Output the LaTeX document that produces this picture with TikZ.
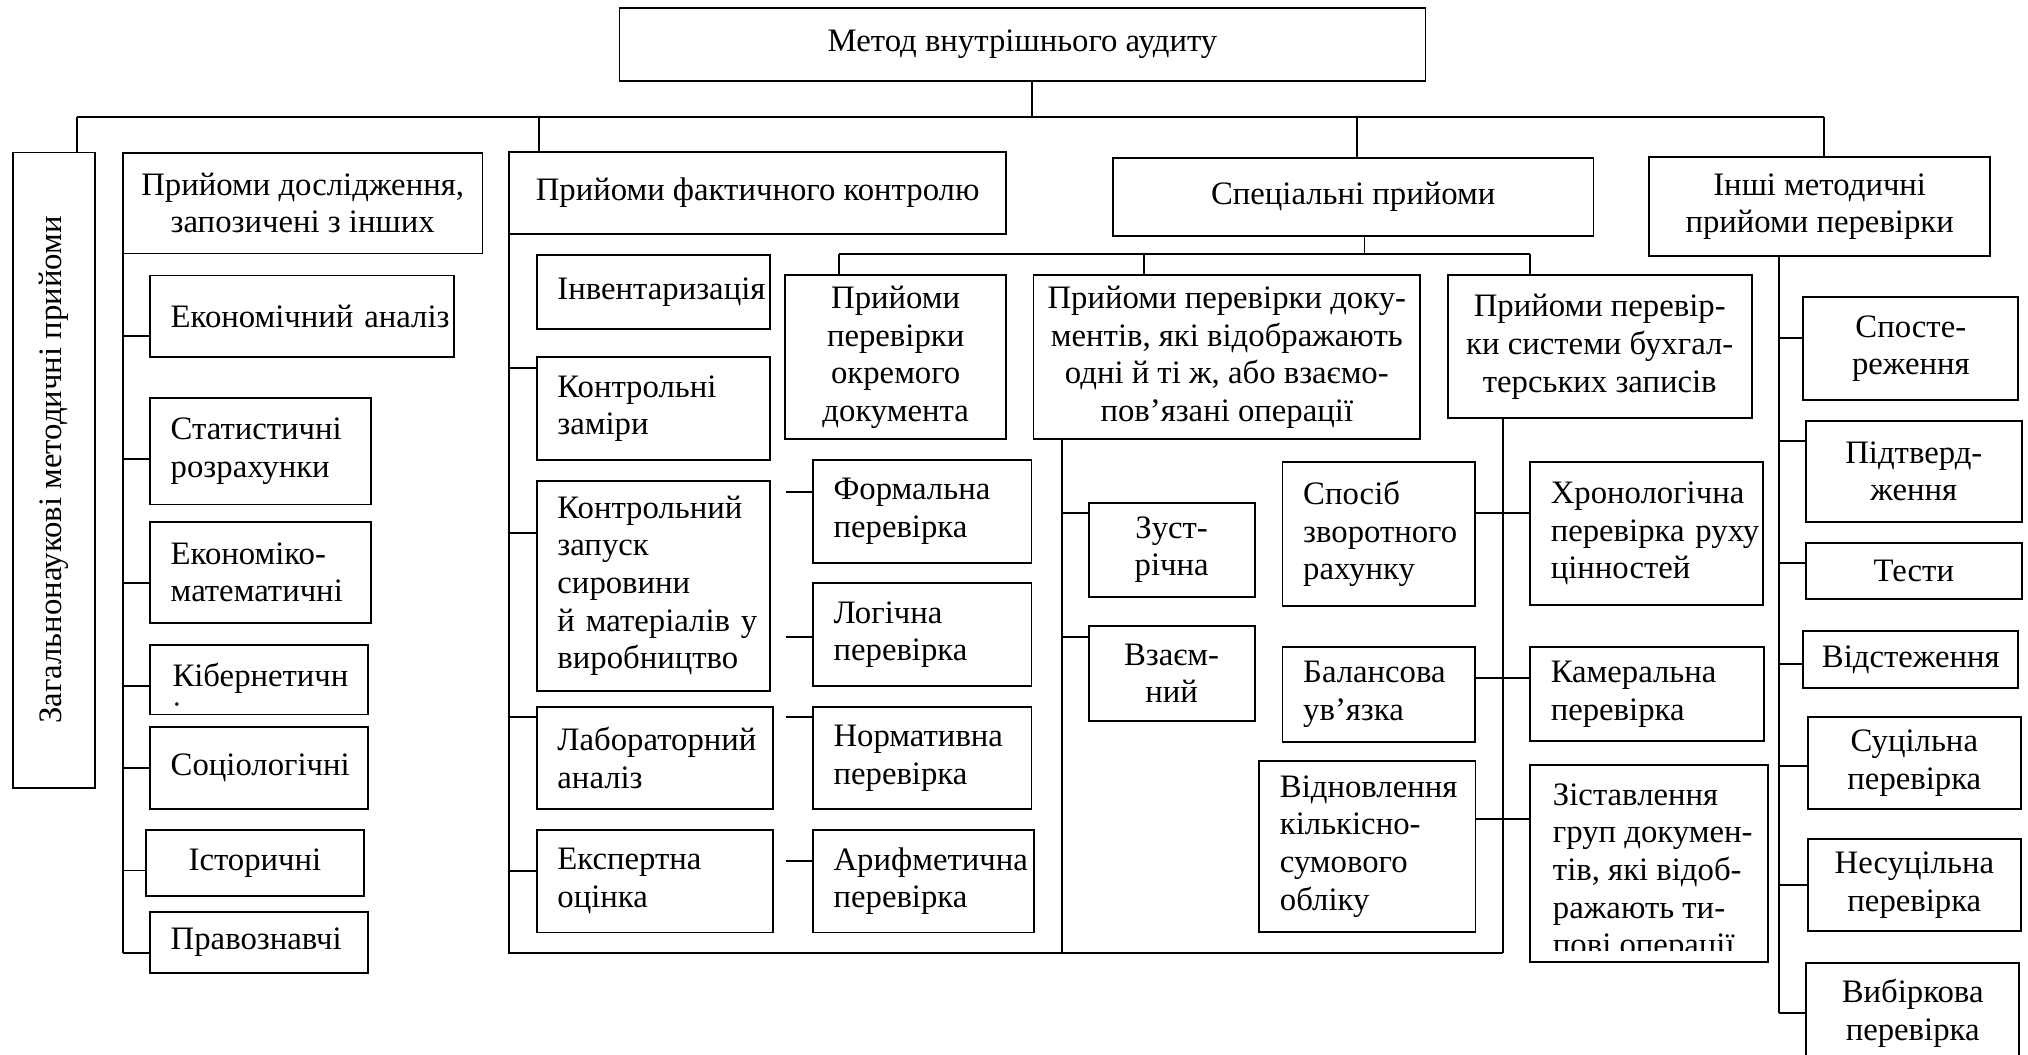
\documentclass[tikz,border=0pt]{standalone}
\usepackage{fontspec}
\setmainfont{Liberation Serif}

\tikzset{
	ramka/.style={draw, line width=1pt, outer sep=0pt, inner ysep=0pt, anchor=north west},
	cbox/.style={ramka, inner xsep=0pt, align=center},
	lbox/.style={ramka, inner xsep=0.4cm, align=left},
	wh/.style 2 args={minimum width=#1cm, minimum height=#2cm},
	tw/.style={text width=#1cm}
}

\begin{document}
\begin{tikzpicture}[x=0.025cm, y=-0.025cm, font=\fontsize{18}{20.7}\selectfont, line width=1pt]
	\useasboundingbox (0,0) rectangle (1568,815);
	\clip (0,0) rectangle (1568,815);

	\node[cbox, wh={15.575}{1.405}] (metod) at (479,6.4) {Метод внутрішнього аудиту};
	\node[cbox, wh={12.275}{1.5875}, anchor=center, rotate=90] (zag) at (41.75,363.5) {Загальнонаукові методичні прийоми};

	% zapozycheni
	\node[cbox, wh={6.95}{1.95}] (dosl) at (95,118) {Прийоми дослідження,\\запозичені з інших};
	\node[lbox, wh={5.875}{1.575}, tw={5.075}] (ekon) at (116,213) {Економічний~аналіз};
	\node[lbox, wh={4.275}{2.05}, tw={3.475}] (stat) at (116,308) {Статистичні\\розрахунки};
	\node[lbox, wh={4.275}{1.95}, tw={3.475}] (ekmat) at (116,403.5) {Економіко-\\математичні};
	\node[ramka, wh={4.2175}{1.335}] (kiber) at (116,499) {};
	\node[lbox, wh={4.2175}{1.575}, tw={3.4175}] (soc) at (116,562.4) {Соціологічні};
	\node[cbox, wh={4.225}{1.275}] (ist) at (112.6,641.8) {Історичні};
	\node[lbox, wh={4.2175}{1.1875}, tw={3.4175}] (prav) at (116,705) {Правознавчі};
	\begin{scope}
		\clip (117,500) rectangle (283.7,546);
		\node[anchor=north west, inner sep=0pt, align=left] (kibertxt) at (132.7,512.2) {Кібернетичн\\і};
	\end{scope}

	% faktychnyi kontrol
	\node[cbox, wh={9.6125}{1.5925}] (fakt) at (393.5,117.3) {Прийоми фактичного контролю};
	\node[lbox, wh={4.5}{1.44}, tw={3.7}] (inv) at (415,197) {Інвентаризація};
	\node[lbox, wh={4.5}{1.985}, tw={3.7}] (kzam) at (415,276.3) {Контрольні\\заміри};
	\node[lbox, wh={4.5}{4.06}, tw={3.7}] (kzap) at (415,371.6) {Контрольний\\запуск\\сировини\\й~матеріалів~у\\виробництво};
	\node[lbox, wh={4.57}{1.9825}, tw={3.77}] (lab) at (415,546.4) {Лабораторний\\аналіз};
	\node[lbox, wh={4.57}{1.98}, tw={3.77}] (eksp) at (415,641.7) {Експертна\\оцінка};
	\node[lbox, wh={4.225}{1.9825}, tw={3.425}] (form) at (628.5,355.7) {Формальна\\перевірка};
	\node[lbox, wh={4.225}{1.985}, tw={3.425}] (logic) at (628.5,451) {Логічна\\перевірка};
	\node[lbox, wh={4.225}{1.9825}, tw={3.425}] (norm) at (628.5,546.4) {Нормативна\\перевірка};
	\node[lbox, wh={4.2725}{1.98}, tw={3.4725}] (arif) at (628.5,641.7) {Арифметична\\перевірка};

	% specialni
	\node[cbox, wh={9.29}{1.5025}] (spec) at (860.4,122.4) {Спеціальні прийоми};
	\node[cbox, wh={4.275}{3.1775}] (okr) at (607,212.6) {Прийоми\\перевірки\\окремого\\документа};
	\node[cbox, wh={7.47}{3.1775}] (dok) at (799.1,212.6) {Прийоми перевірки доку-\\ментів, які відображають\\одні й ті ж, або взаємо-\\пов’язані операції};
	\node[cbox, wh={5.8725}{2.77}] (sys) at (1119.4,212.6) {Прийоми перевір-\\ки системи бухгал-\\терських записів};
	\node[cbox, wh={3.2075}{1.815}] (zust) at (841.7,388.7) {Зуст-\\річна};
	\node[cbox, wh={3.2075}{1.83}] (vzaem) at (841.7,484) {Взаєм-\\ний};
	\node[lbox, wh={3.7275}{2.7875}, tw={2.9275}] (sposib) at (991.6,357) {Спосіб\\зворотного\\рахунку};
	\node[lbox, wh={3.7275}{1.835}, tw={2.9275}] (bal) at (991.6,500) {Балансова\\ув’язка};
	\node[lbox, wh={4.1775}{3.2975}, tw={3.3775}] (vidn) at (973.6,588.4) {Відновлення\\кількісно-\\сумового\\обліку};
	\node[lbox, wh={4.495}{2.77}, tw={3.695}] (chron) at (1183,357) {Хронологічна\\перевірка~руху\\цінностей};
	\node[lbox, wh={4.52}{1.8125}, tw={3.72}] (kam) at (1183,500.5) {Камеральна\\перевірка};
	\node[ramka, wh={4.605}{3.8}] (zist) at (1183,591.5) {};
	\begin{scope}
		\clip (1184,592.5) rectangle (1366,735);
		\node[anchor=north west, inner sep=0pt, align=left] (zisttxt) at (1200,605) {Зіставлення\\груп докумен-\\тів, які відоб-\\ражають ти-\\пові операції};
	\end{scope}

	% inshi
	\node[cbox, wh={6.585}{1.9075}] (inshi) at (1275.2,121.6) {Інші методичні\\прийоми перевірки};
	\node[cbox, wh={4.155}{1.985}] (spost) at (1394.3,229.9) {Спосте-\\реження};
	\node[cbox, wh={4.17}{1.945}] (pidtv) at (1396.3,325.5) {Підтверд-\\ження};
	\node[cbox, wh={4.17}{1.0875}] (testy) at (1396.3,419.6) {Тести};
	\node[cbox, wh={4.155}{1.095}] (vidst) at (1394.3,487.9) {Відстеження};
	\node[cbox, wh={4.125}{1.7775}] (suc) at (1397.6,554.6) {Суцільна\\перевірка};
	\node[cbox, wh={4.125}{1.7675}] (nesuc) at (1397.6,648.9) {Несуцільна\\перевірка};
	\node[cbox, wh={4.125}{1.95}] (vyb) at (1396.3,744.3) {Вибіркова\\перевірка};

	% lines
	\coordinate (d0) at (797.7,90.2);
	\coordinate (b0) at (59.5,90.2);
	\coordinate (b1) at (1410.5,90.2);
	\coordinate (d1) at (417,90.2);
	\coordinate (d2) at (1049,90.2);
	\draw (d0 |- metod.south) -- (d0);
	\draw (b0) -- (b1);
	\draw (b0) -- (b0 |- zag.east);
	\draw (d1) -- (d1 |- fakt.north);
	\draw (d2) -- (d2 |- spec.north);
	\draw (b1) -- (b1 |- inshi.north);

	\coordinate (l0) at (95,737);
	\draw (dosl.south west) -- (l0);
	\foreach \n/\s in {ekon/-0.3875cm, stat/-0.15cm, ekmat/-0.205cm, kiber/-0.12cm, soc/0cm, ist/-0.144cm, prav/-0.206cm}
		\draw ([yshift=\s]\n.west) -- ([yshift=\s]\n.west -| l0);

	\coordinate (f0) at (393.5,736.6);
	\coordinate (k0) at (1162,736.6);
	\draw (fakt.south west) -- (f0) -- (k0);
	\foreach \n/\s in {kzam/0.78cm, kzap/1.025cm, lab/0.786cm, eksp/0.196cm}
		\draw ([yshift=\s]\n.west) -- ([yshift=\s]\n.west -| f0);
	\coordinate (st) at (607.5,0);
	\foreach \n/\s in {form/0.381cm, logic/-0.04cm, norm/0.786cm, arif/0.389cm}
		\draw ([yshift=\s]\n.west) -- ([yshift=\s]\n.west -| st);

	\coordinate (s0) at (649,196.6);
	\coordinate (s1) at (1183,196.6);
	\coordinate (s2) at (884.4,196.6);
	\draw ([xshift=0.22cm]spec.south) -- ([xshift=0.22cm]spec.south |- s0);
	\draw (s0) -- (s1);
	\draw (s0) -- (s0 |- okr.north);
	\draw (s2) -- (s2 |- dok.north);
	\draw (s1) -- (s1 |- sys.north);

	\coordinate (dk) at (821,736.6);
	\draw (dk |- dok.south) -- (dk);
	\foreach \n/\s in {zust/0.7025cm, vzaem/0.7075cm}
		\draw ([yshift=\s]\n.west) -- ([yshift=\s]\n.west -| dk);
	\draw (k0 |- sys.south) -- (k0);
	\foreach \a/\b/\s in {sposib/chron/0.396cm, bal/kam/0.3175cm, vidn/zist/0.521cm}
		\draw ([yshift=\s]\a.east) -- ([yshift=\s]\a.east -| \b.west);

	\coordinate (i0) at (1375.4,783);
	\draw (i0 |- inshi.south) -- (i0);
	\foreach \n/\s in {spost/0.2cm, pidtv/0.585cm, testy/0.146cm, vidst/-0.095cm, suc/-0.05cm, nesuc/0cm, vyb/0cm}
		\draw ([yshift=\s]\n.west) -- ([yshift=\s]\n.west -| i0);
\end{tikzpicture}
\end{document}
